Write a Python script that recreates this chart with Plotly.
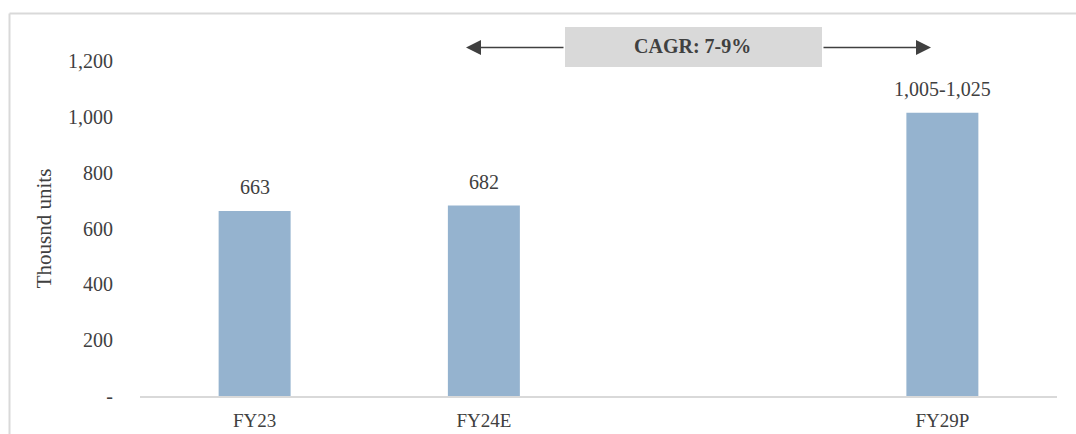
import plotly.graph_objects as go

categories = ["FY23", "FY24E", " ", "FY29P"]
values = [663, 682, None, 1015]
labels = ["663", "682", "", "1,005-1,025"]
tick_vals = [0, 200, 400, 600, 800, 1000, 1200]
tick_text = ["-", "200", "400", "600", "800", "1,000", "1,200"]
cagr_text = "CAGR: 7-9%"

FONT = "Liberation Serif"
TXT = "#404040"
FS = 20

fig = go.Figure()
fig.add_trace(go.Bar(
    x=categories, y=values,
    marker=dict(color="#95B3CF", line=dict(width=0)),
    hoverinfo="skip",
))

L, R, T, B = 140, 19, 61, 38
W, H = 1076, 434
pw, ph = W - L - R, H - T - B

def px(x):
    return (x - L) / pw

def py(y):
    return (H - B - y) / ph

shapes = [
    dict(type="line", xref="paper", yref="paper", x0=px(9.5), x1=px(1076), y0=py(13.5), y1=py(13.5),
         line=dict(color="#d9d9d9", width=2)),
    dict(type="line", xref="paper", yref="paper", x0=px(9.5), x1=px(9.5), y0=py(13.5), y1=py(440),
         line=dict(color="#d9d9d9", width=2)),
    dict(type="rect", xref="paper", yref="paper", x0=px(565), x1=px(822), y0=py(67), y1=py(27),
         fillcolor="#d9d9d9", line=dict(width=0), layer="above"),
]

annotations = [
    dict(xref="paper", yref="paper", x=px(692), y=py(46.5), yanchor="middle", xanchor="center",
         text="<b>" + cagr_text + "</b>",
         showarrow=False, font=dict(family=FONT, size=FS, color=TXT)),
    dict(xref="paper", yref="paper", x=px(466), y=py(47.5), ax=99, ay=0, text="",
         showarrow=True, arrowhead=2, arrowsize=2, arrowwidth=1.5, arrowcolor="#404040"),
    dict(xref="paper", yref="paper", x=px(931), y=py(47.5), ax=-109, ay=0, text="",
         showarrow=True, arrowhead=2, arrowsize=2, arrowwidth=1.5, arrowcolor="#404040"),
]
for c, v, t in zip(categories, values, labels):
    if v is None or not t:
        continue
    annotations.append(dict(
        x=c, y=v, xref="x", yref="y", text=t, showarrow=False,
        yanchor="bottom", xanchor="center", yshift=11,
        font=dict(family=FONT, size=FS, color=TXT),
    ))

fig.update_layout(
    width=W, height=H,
    margin=dict(l=L, r=R, t=T, b=B, pad=0, autoexpand=False),
    paper_bgcolor="white", plot_bgcolor="white",
    showlegend=False, bargap=0.686,
    shapes=shapes, annotations=annotations,
    font=dict(family=FONT, color=TXT, size=FS),
)
fig.update_xaxes(
    type="category", categoryorder="array", categoryarray=categories,
    showline=True, linecolor="#d9d9d9", linewidth=2, showgrid=False,
    ticks="", tickfont=dict(family=FONT, size=19, color=TXT), ticklabelstandoff=6,
    zeroline=False, automargin=False,
)
fig.update_yaxes(
    range=[0, 1200], tickvals=tick_vals, ticktext=tick_text,
    showgrid=False, zeroline=False, showline=False, ticks="",
    tickfont=dict(family=FONT, size=FS, color=TXT), ticklabelstandoff=26,
    title=dict(text="Thousnd units", font=dict(family=FONT, size=21, color=TXT), standoff=10),
    automargin=False,
)

fig.write_html("out.html")
